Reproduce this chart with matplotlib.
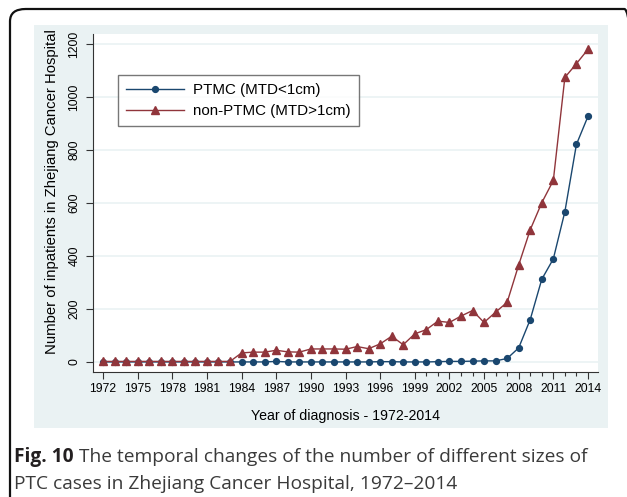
import matplotlib
matplotlib.use("Agg")
import matplotlib.pyplot as plt
from matplotlib.patches import FancyBboxPatch, Rectangle

# data
years = list(range(1972, 2015))
ptmc = [0, 0, 0, 0, 0, 0, 0, 0, 0, 0, 0, 0,
        0, 0, 0, 2, 0, 0, 0, 0, 0, 0, 0, 0, 1, 1, 0,
        0, 0, 1, 2, 2, 3, 4, 4, 13,
        53, 160, 312, 389, 567, 821, 927]
non_ptmc = [2, 2, 2, 2, 2, 2, 2, 2, 2, 2, 2, 2,
            34, 37, 37, 44, 38, 37, 49, 49, 49, 48, 58, 50, 68, 97, 65,
            106, 122, 154, 149, 173, 194, 149, 188, 225,
            366, 499, 601, 685, 1074, 1126, 1180]
major_years = list(range(1972, 2015, 3))
minor_years = [y for y in range(2000, 2014) if y not in major_years]
yticks = [0, 200, 400, 600, 800, 1000, 1200]

blue = "#1a476f"
red = "#90353b"
panel = "#eaf2f3"

W, H = 627, 497
fig = plt.figure(figsize=(W / 100, H / 100), dpi=100)
fig.patch.set_facecolor("white")

def fx(px):
    return px / W

def fy(py):
    return 1 - py / H

# outer frame with rounded corner
frame = FancyBboxPatch((fx(10), fy(520)), fx(640) - fx(10), fy(9) - fy(520),
                       boxstyle="round,pad=0,rounding_size=0.025",
                       transform=fig.transFigure, facecolor="none",
                       edgecolor="#111111", linewidth=1.6, zorder=0)
fig.patches.append(frame)

# light graph region like Stata
fig.patches.append(Rectangle((fx(34), fy(428)), fx(608) - fx(34), fy(25) - fy(428),
                             transform=fig.transFigure, facecolor=panel,
                             edgecolor="none", zorder=0))

ax = fig.add_axes([fx(93), fy(372), fx(598) - fx(93), fy(34) - fy(372)], zorder=2)
ax.set_facecolor("white")

ax.plot(years, ptmc, color=blue, lw=1.0, marker="o", ms=4.2,
        label="PTMC (MTD<1cm)", zorder=3)
ax.plot(years, non_ptmc, color=red, lw=1.0, marker="^", ms=6,
        label="non-PTMC (MTD>1cm)", zorder=4)

ax.set_xlim(1971.13, 2014.87)
ax.set_ylim(-38, 1238)
ax.set_xticks(major_years)
ax.set_xticks(minor_years, minor=True)
ax.set_yticks(yticks)
ax.grid(axis="y", color=panel, lw=1.2, zorder=0)
ax.set_axisbelow(True)

font = "Liberation Sans"
ax.set_xticklabels([str(y) for y in major_years], fontsize=8.8, family=font)
ax.set_yticklabels([str(v) for v in yticks], fontsize=8.8, family=font,
                   rotation=90, va="center")
ax.tick_params(axis="both", which="major", length=5, width=0.8, color="#333333", pad=3)
ax.tick_params(axis="y", which="major", pad=4)
ax.tick_params(axis="x", which="minor", length=3, width=0.8, color="#333333")

for s in ["top", "right"]:
    ax.spines[s].set_visible(False)
for s in ["left", "bottom"]:
    ax.spines[s].set_color("#333333")
    ax.spines[s].set_linewidth(0.8)

ax.set_xlabel("Year of diagnosis - 1972-2014", fontsize=10.2, family=font, labelpad=10)
ax.set_ylabel("Number of inpatients in Zhejiang Cancer Hospital", fontsize=10.7,
              family=font, labelpad=7)
ax.yaxis.label.set_y((372 - 192) / 338)

leg = ax.legend(loc="upper left", bbox_to_anchor=((118 - 93) / 505, (372 - 75) / 338),
                borderaxespad=0, fancybox=False, frameon=True,
                prop={"family": font, "size": 10.9}, handlelength=3.8,
                borderpad=0.55, labelspacing=0.45, handletextpad=0.6)
leg.get_frame().set_edgecolor("#555555")
leg.get_frame().set_linewidth(1.0)

# caption below the graph
cap_font = "Open Sans"
cap_size = 13.8
t1 = fig.text(fx(14), fy(457), "Fig. 10", fontsize=cap_size, family=cap_font,
              weight="bold", color="#231f20", va="center")
fig.canvas.draw()
bb = t1.get_window_extent()
fig.text(bb.x1 / W + fx(5), fy(457),
         "The temporal changes of the number of different sizes of",
         fontsize=cap_size, family=cap_font, color="#3a3a3a", va="center")
fig.text(fx(14), fy(484), "PTC cases in Zhejiang Cancer Hospital, 1972\u20132014",
         fontsize=cap_size, family=cap_font, color="#3a3a3a", va="center")

fig.savefig("out.png", dpi=100)
